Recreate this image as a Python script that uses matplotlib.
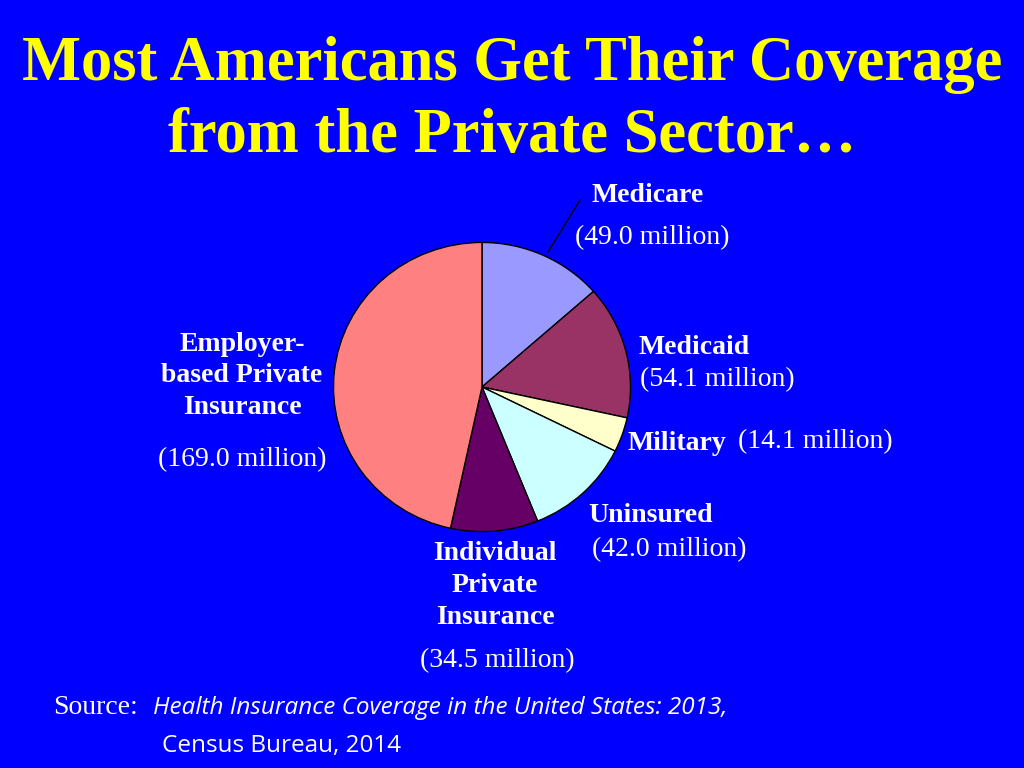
import matplotlib
matplotlib.use("Agg")
import matplotlib.pyplot as plt

categories = ["Medicare", "Medicaid", "Military", "Uninsured", "Individual Private Insurance", "Employer-based Private Insurance"]
values = [49.0, 54.1, 14.1, 42.0, 34.5, 169.0]
colors = ["#9999FF", "#993366", "#FFFFCC", "#CCFFFF", "#660066", "#FF8080"]

BG = "#0000FF"
fig = plt.figure(figsize=(10.24, 7.68), dpi=100, facecolor=BG)
W, H = 1024, 768
ax = fig.add_axes([(482-150)/W, 1-(387+146)/H, 300/W, 292/H])
ax.pie(values, colors=colors, startangle=90, counterclock=False,
       wedgeprops=dict(edgecolor="black", linewidth=1))
ax.set_xlim(-1.01, 1.01)
ax.set_ylim(-1.01, 1.01)
ax.set_aspect("auto")
ax.axis("off")

serif = "Liberation Serif"
def t(x, y, s, size=20, bold=True, color="white", ha="center", **kw):
    fig.text(x/W, 1-y/H, s, fontsize=size, fontweight="bold" if bold else "normal",
             color=color, ha=ha, va="center", family=kw.pop("family", serif), **kw)

t(512, 65, "Most Americans Get Their Coverage", size=45, color="#FFFF00")
t(512, 137, "from the Private Sector\u2026", size=45, color="#FFFF00")

t(648, 195, "Medicare")
t(652, 238, "(49.0 million)", bold=False)
t(694, 348, "Medicaid")
t(717, 380, "(54.1 million)", bold=False)
t(677, 444, "Military")
t(815, 442, "(14.1 million)", bold=False)
t(651, 515, "Uninsured")
t(669, 550, "(42.0 million)", bold=False)
t(495, 553, "Individual")
t(495, 585, "Private")
t(495, 617, "Insurance")
t(497, 661, "(34.5 million)", bold=False)
t(242, 344, "Employer-")
t(242, 376, "based Private")
t(242, 408, "Insurance")
t(242, 460, "(169.0 million)", bold=False)

fig.add_artist(plt.Line2D([548/W, 580/W], [1-252/H, 1-200/H], color="black", lw=1))

t(53, 708, "Source:", bold=False, ha="left", size=20)
t(153, 708, "Health Insurance Coverage in the United States: 2013,", bold=False, ha="left",
  size=17.5, style="italic", family="Open Sans")
t(162, 746, "Census Bureau, 2014", bold=False, ha="left", size=17.5, family="Open Sans")

fig.savefig("out.png", dpi=100, facecolor=BG)
